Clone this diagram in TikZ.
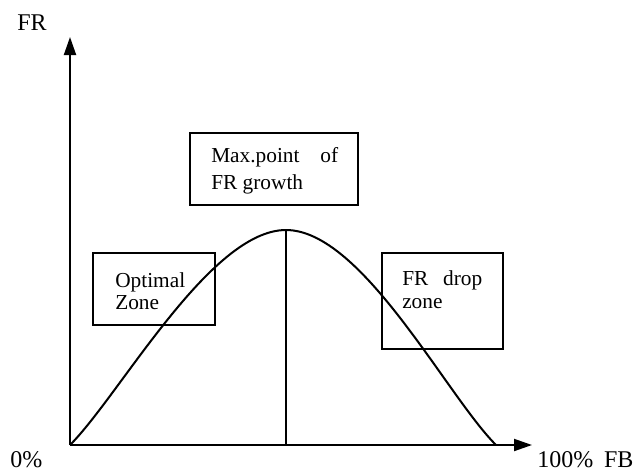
\documentclass[tikz,border=0pt]{standalone}
\usepackage{fontspec}
\setmainfont{Liberation Serif}
\usetikzlibrary{arrows.meta}
\begin{document}
\begin{tikzpicture}[x=0.75pt,y=-0.75pt,
  axis/.style={line width=1.5pt,-{Triangle[length=13.5pt,width=9pt]}},
  boxstyle/.style={draw,line width=1.5pt,inner sep=0pt},
  curve/.style={line width=1.5pt},
  boxtext/.style={font=\fontsize{16}{19}\selectfont,anchor=base west,inner sep=0pt},
  axislabel/.style={font=\fontsize{18}{21}\selectfont,anchor=base west,inner sep=0pt}]
\useasboundingbox (0,0) rectangle (634,472);
\coordinate (O) at (70,445);
\coordinate (ytip) at (70,37);
\coordinate (xtip) at (532,445);
\coordinate (peak) at (286,230);
\coordinate (foot) at (286,445);
\coordinate (end) at (496,445);
% boxes
\node[boxstyle, minimum width=126pt, minimum height=54pt] (maxbox) at (274,169) {};
\node[boxstyle, minimum width=91.5pt, minimum height=54pt] (optbox) at (154,289) {};
\node[boxstyle, minimum width=90.75pt, minimum height=72pt] (dropbox) at (442.5,301) {};
% curve
\draw[curve] (O) .. controls (120,395) and (210,230) .. (peak)
             .. controls (362,230) and (446,395) .. (end);
\draw[curve] (peak) -- (foot);
% axes
\draw[axis] (O) -- (ytip);
\draw[axis] (O) -- (xtip);
% box texts
\node[boxtext] (m1) at (211,162) {\makebox[95.25pt][s]{Max.point of}};
\node[boxtext] (m2) at (211,189) {FR growth};
\node[boxtext] (o1) at (115,287) {Optimal};
\node[boxtext] (o2) at (115,309) {Zone};
\node[boxtext] (d1) at (402,285) {\makebox[60pt][s]{FR drop}};
\node[boxtext] (d2) at (402,308) {zone};
% axis labels
\node[axislabel] (ylab) at (17,30) {FR};
\node[axislabel] (zero) at (10,467) {0\%};
\node[axislabel] (xlab) at (537,467) {100\%\hspace{0.45em}FB};
\end{tikzpicture}
\end{document}
